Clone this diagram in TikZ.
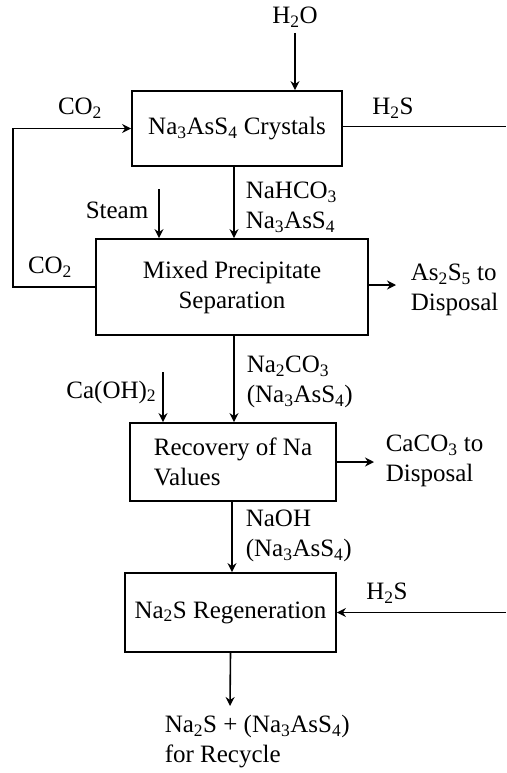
\documentclass[tikz,border=0pt]{standalone}
\usepackage{fontspec}
\setmainfont{Liberation Serif}
\usetikzlibrary{arrows.meta}
\newcommand{\chemsub}[1]{\textsubscript{#1}}
\begin{document}
\begin{tikzpicture}[x=1pt,y=-1pt,
  font=\fontsize{25}{30}\selectfont,
  line width=1.6pt,
  arr/.style={-{Stealth[length=9pt,width=9pt,inset=3pt]}},
  unit/.style={draw,line width=1.8pt,inner sep=0pt,align=left},
  lbl/.style={inner sep=0pt,align=left}]
\useasboundingbox (0,0) rectangle (506,773);

% process units
\node[unit,minimum width=210pt,minimum height=75pt] (crys) at (237,128.5) {Na\chemsub{3}AsS\chemsub{4} Crystals};
\node[unit,minimum width=272pt,minimum height=96pt,align=center] (sep) at (232,287) {Mixed Precipitate\\Separation};
\node[unit,minimum width=206pt,minimum height=78pt] (rec) at (233,462) {Recovery of Na\\Values};
\node[unit,minimum width=211pt,minimum height=79pt] (regen) at (230.5,612.5) {Na\chemsub{2}S Regeneration};

% stream labels
\node[lbl] (h2o) at (295,17) {H\chemsub{2}O};
\node[lbl] (co2a) at (80,108) {CO\chemsub{2}};
\node[lbl] (h2sa) at (393,108) {H\chemsub{2}S};
\node[lbl,anchor=west] (bicarb) at (245,207) {NaHCO\chemsub{3}\\Na\chemsub{3}AsS\chemsub{4}};
\node[lbl] (steam) at (117,210) {Steam};
\node[lbl] (co2b) at (50,267) {CO\chemsub{2}};
\node[lbl,anchor=west] (as2s5) at (410,290) {As\chemsub{2}S\chemsub{5} to\\Disposal};
\node[lbl,anchor=west] (carb) at (246,382) {Na\chemsub{2}CO\chemsub{3}\\(Na\chemsub{3}AsS\chemsub{4})};
\node[lbl,anchor=east] (lime) at (157,392) {Ca(OH)\chemsub{2}};
\node[lbl,anchor=west] (caco3) at (385,461) {CaCO\chemsub{3} to\\Disposal};
\node[lbl,anchor=west] (naoh) at (245,536) {NaOH\\(Na\chemsub{3}AsS\chemsub{4})};
\node[lbl] (h2sb) at (387,593) {H\chemsub{2}S};
\node[lbl,anchor=west] (product) at (164,742) {Na\chemsub{2}S + (Na\chemsub{3}AsS\chemsub{4})\\for Recycle};

% free ends and branch points of the streams
\coordinate (h2otop) at (295,33);
\coordinate (loopx) at (13,0);
\coordinate (rightx) at (506,0);
\coordinate (steamtop) at (159,189);
\coordinate (limetop) at (163,372);
\coordinate (asend) at (396,285);
\coordinate (caend) at (374,462);
\coordinate (prodend) at (230,706);
\coordinate (h2sout) at ([yshift=2pt]crys.east);
\coordinate (d1) at ([xshift=-3pt]crys.south);
\coordinate (d2) at ([xshift=2pt]sep.south);
\coordinate (d3) at ([xshift=-1pt]rec.south);

% connectors
\draw[arr] (h2otop) -- (h2otop |- crys.north);
\draw[arr] (sep.west) -- (loopx |- sep.west) -- (loopx |- crys.west) -- (crys.west);
\draw (h2sout) -- (rightx |- h2sout);
\draw[arr] (d1) -- (d1 |- sep.north);
\draw[arr] (steamtop) -- (steamtop |- sep.north);
\draw[arr] (asend -| sep.east) -- (asend);
\draw[arr] (d2) -- (d2 |- rec.north);
\draw[arr] (limetop) -- (limetop |- rec.north);
\draw[arr] (rec.east) -- (caend);
\draw[arr] (d3) -- (d3 |- regen.north);
\draw[arr] (rightx |- regen.east) -- (regen.east);
\draw[arr] (regen.south) -- (prodend);
\end{tikzpicture}
\end{document}
